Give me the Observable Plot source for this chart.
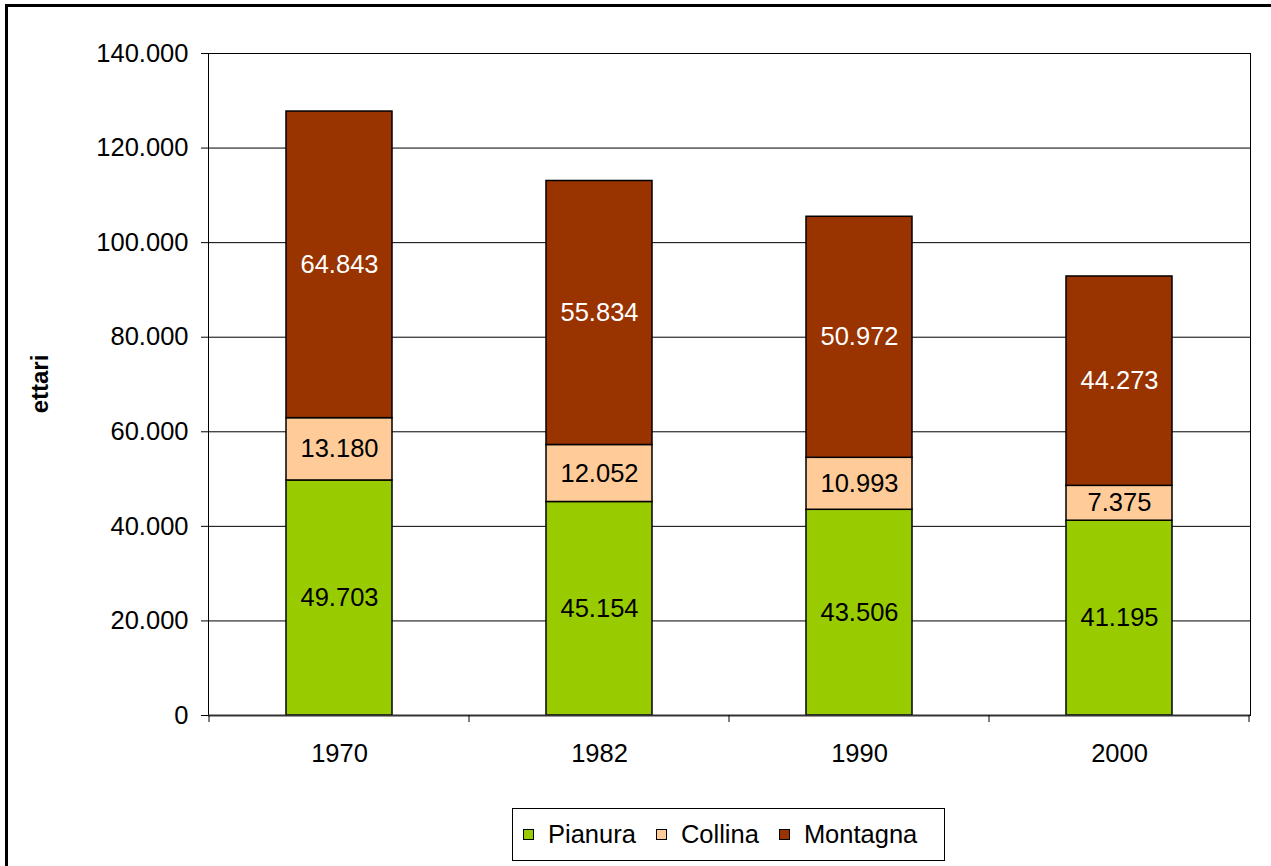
<!DOCTYPE html>
<html>
<head>
<meta charset="utf-8">
<script src="https://cdn.jsdelivr.net/npm/d3@7"></script>
<script src="https://cdn.jsdelivr.net/npm/@observablehq/plot@0.6"></script>
<style>
  html, body { margin: 0; padding: 0; background: #fff; }
  #wrap { position: relative; width: 1271px; height: 866px; overflow: hidden; font-family: "Liberation Sans", Arial, sans-serif; }
  #frame { position: absolute; left: 5px; top: 4px; width: 1300px; height: 900px; border: 3px solid #000; box-sizing: border-box; }
  #chart { position: absolute; left: 0; top: 0; }
  #ylab { position: absolute; left: 40px; top: 384px; transform: translate(-50%, -50%) rotate(-90deg); font-weight: bold; font-size: 24px; white-space: nowrap; }
  #legend { position: absolute; left: 512px; top: 808px; width: 433px; height: 53px; border: 1.5px solid #000; box-sizing: border-box; display: flex; align-items: center; font-size: 25.5px; }
  .item { display: flex; align-items: center; margin-left: 10px; }
  .sw { width: 11px; height: 11px; border: 1.5px solid #000; box-sizing: border-box; margin-right: 14px; }
  .item + .item { margin-left: 20px; }
</style>
</head>
<body>
<div id="wrap">
  <div id="chart"></div>
  <div id="frame"></div>
  <div id="ylab">ettari</div>
  <div id="legend"></div>
</div>
<script>
const years = ["1970", "1982", "1990", "2000"];
const pianura = [49703, 45154, 43506, 41195];
const collina = [13180, 12052, 10993, 7375];
const montagna = [64843, 55834, 50972, 44273];
const series = ["Pianura", "Collina", "Montagna"];
const colors = ["#99CC00", "#FFCC99", "#993300"];
const yTicks = [0, 20000, 40000, 60000, 80000, 100000, 120000, 140000];

const locale = d3.formatLocale({decimal: ",", thousands: ".", grouping: [3], currency: ["", "€"]});
const fmt = locale.format(",d");

const seriesValues = {Pianura: pianura, Collina: collina, Montagna: montagna};
const data = years.flatMap((year, i) => series.map(zona => ({year, zona, value: seriesValues[zona][i]})));

const W = 1271, H = 866;
const plot = Plot.plot({
  width: W,
  height: H,
  marginLeft: 208,
  marginRight: 21,
  marginTop: 53,
  marginBottom: 151,
  style: {fontFamily: "Liberation Sans, Arial, sans-serif", fontSize: "25.5px", background: "transparent", color: "#000"},
  x: {domain: years, paddingInner: 0.593, paddingOuter: 0.2965, label: null},
  y: {domain: [0, 140000], label: null},
  color: {domain: series, range: colors},
  marks: [
    Plot.gridY(yTicks, {stroke: "#000", strokeOpacity: 1, strokeWidth: 1}),
    Plot.frame({stroke: "#000", strokeWidth: 1}),
    Plot.barY(data, {x: "year", y: "value", fill: "zona", stroke: "#000", strokeWidth: 1.5, order: series}),
    Plot.text(data, Plot.stackY({x: "year", y: "value", z: "zona", order: series, text: d => d.zona === "Montagna" ? fmt(d.value) : "", fill: "#fff"})),
    Plot.text(data, Plot.stackY({x: "year", y: "value", z: "zona", order: series, text: d => d.zona !== "Montagna" ? fmt(d.value) : "", fill: "#000"})),
    Plot.ruleY([0], {stroke: "#333", strokeWidth: 2}),
    Plot.axisY(yTicks, {tickFormat: fmt, tickSize: 7, tickPadding: 13, label: null, stroke: "#000"}),
    Plot.axisX({tickSize: 0, tickPadding: 28, label: null})
  ]
});

// category boundary ticks below the x axis, positioned from the library's scales
const sx = plot.scale("x"), sy = plot.scale("y");
const y0 = sy.apply(0);
const svg = d3.select(plot);
const bounds = [sx.apply(years[0]) + sx.bandwidth / 2 - sx.step / 2]
  .concat(years.map(y => sx.apply(y) + sx.bandwidth / 2 + sx.step / 2));
svg.append("g").selectAll("line").data(bounds).join("line")
  .attr("x1", d => d).attr("x2", d => d)
  .attr("y1", y0).attr("y2", y0 + 7)
  .attr("stroke", "#000").attr("stroke-width", 1);

document.getElementById("chart").appendChild(plot);

const legend = document.getElementById("legend");
series.forEach((s, i) => {
  const it = document.createElement("div");
  it.className = "item";
  const sw = document.createElement("div");
  sw.className = "sw";
  sw.style.background = colors[i];
  const t = document.createElement("span");
  t.textContent = s;
  it.appendChild(sw); it.appendChild(t);
  legend.appendChild(it);
});
</script>
</body>
</html>
